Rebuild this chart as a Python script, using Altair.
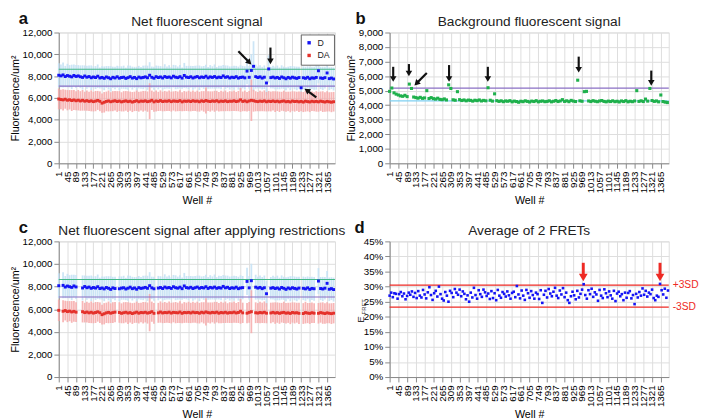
import altair as alt
import pandas as pd

FONT = "Liberation Sans"
BLUE = "#1414f5"
RED = "#e4312b"
LIGHT_BLUE = "#c6e2f5"
PINK = "#f6a9a9"
GREEN_DOT = "#1fb04c"
GREEN_LINE = "#45b98a"
PURPLE_LINE = "#8a6fc4"
CYAN_LINE = "#7fd0f2"
ARROW_RED = "#ee2a24"

# ---------------- data ----------------
wells = list(range(1, 1400, 11))           # sampled wells (128)
x_ticks = list(range(1, 1366, 44))         # 1, 45, 89, ... 1365

d_vals = [8080, 8020, 8110, 7960, 8050, 7990, 7930, 8060, 7970, 8020,
          7940, 7880, 8010, 7900, 7960, 7850, 7920, 7870, 7990, 7830,
          7880, 7800, 7920, 7850, 7760, 7890, 7830, 7940, 7810, 7870,
          7900, 7790, 7860, 7950, 7820, 7880, 7770, 7910, 7840, 7880,
          7930, 7850, 8080, 7890, 7810, 7950, 7870, 7920, 7830, 7960,
          7880, 7920, 7840, 7990, 7900, 7860, 7950, 7820, 8060, 7910,
          7870, 7940, 7830, 7900, 7960, 7850, 7920, 7880, 7990, 7840,
          7930, 7880, 7960, 7850, 7910, 7870, 8020, 7890, 7940, 7830,
          7900, 7860, 7950, 7820, 7880, 7910, 7840, 8460, 7890, 8520,
          8900, 7950, 7870, 7930, 7820, 7900, 7370, 8660, 7860, 7910,
          7830, 7880, 7790, 7920, 7850, 7760, 7880, 7810, 7900, 7840,
          7790, 7870, 6930, 7850, 7800, 7890, 7760, 7840, 7810, 7880,
          8490, 7830, 7790, 7860, 8290, 7770, 7820, 7740]

da_vals = [5900, 5850, 5820, 5880, 5790, 5830, 5760, 5810, 5740, 5790,
           5720, 5780, 5700, 5750, 5680, 5730, 5660, 5710, 5770, 5690,
           5520, 5600, 5680, 5720, 5650, 5700, 5740, 5670, 5710, 5640,
           5690, 5730, 5660, 5700, 5620, 5680, 5740, 5650, 5710, 5690,
           5730, 5660, 5700, 5780, 5640, 5720, 5680, 5750, 5670, 5710,
           5690, 5740, 5660, 5720, 5700, 5680, 5750, 5640, 5710, 5690,
           5720, 5670, 5740, 5690, 5710, 5650, 5730, 5680, 5760, 5700,
           5670, 5720, 5690, 5740, 5650, 5710, 5680, 5730, 5660, 5700,
           5690, 5740, 5670, 5710, 5820, 5680, 5730, 5650, 5720, 5780,
           5740, 5690, 5660, 5710, 5680, 5730, 5650, 5700, 5670, 5720,
           5660, 5700, 5640, 5690, 5720, 5650, 5680, 5630, 5710, 5670,
           5690, 5640, 5680, 5620, 5700, 5660, 5630, 5690, 5650, 5680,
           5640, 5700, 5660, 5620, 5680, 5640, 5610, 5650]

sd_d = [1100, 1050, 1150, 980, 1080, 1020, 1120, 1000, 1060, 990,
        1040, 1110, 970, 1060, 1010, 1130, 990, 1050, 1080, 960,
        1020, 1090, 1000, 1070, 1150, 980, 1040, 1010, 1100, 1030,
        1060, 990, 1120, 1010, 1050, 970, 1090, 1030, 1000, 1080,
        1040, 1110, 1200, 990, 1060, 1020, 1080, 1000, 1050, 1130,
        1010, 1070, 990, 1040, 1100, 1020, 1060, 980, 1150, 1030,
        1070, 1000, 1090, 1040, 1010, 1120, 980, 1050, 1060, 1000,
        1080, 1020, 1110, 990, 1040, 1070, 1000, 1090, 1030, 1060,
        1010, 1100, 990, 1050, 1120, 1030, 1060, 1200, 1040, 1500,
        2300, 1100, 1000, 1060, 1030, 1080, 1150, 1250, 990, 1050,
        1040, 1090, 1000, 1070, 1020, 1060, 990, 1110, 1030, 1050,
        1080, 1000, 1100, 1040, 1060, 1010, 1090, 1030, 1050, 1120,
        1150, 1020, 1070, 990, 1100, 1040, 1010, 1060]

sd_da = [950, 900, 980, 870, 930, 890, 960, 910, 880, 940,
         900, 950, 870, 920, 890, 960, 900, 930, 870, 910,
         880, 940, 900, 960, 870, 920, 890, 950, 910, 880,
         930, 900, 960, 880, 920, 890, 940, 910, 870, 950,
         900, 930, 1650, 890, 920, 960, 880, 940, 900, 930,
         890, 950, 910, 880, 940, 900, 960, 870, 920, 890,
         940, 900, 930, 880, 950, 910, 890, 940, 1200, 900,
         930, 880, 960, 910, 890, 940, 900, 950, 870, 920,
         900, 940, 880, 930, 1100, 900, 950, 890, 920, 1900,
         1000, 920, 880, 940, 900, 960, 890, 930, 910, 880,
         950, 900, 930, 870, 940, 910, 890, 950, 900, 930,
         880, 940, 900, 920, 960, 890, 930, 900, 870, 940,
         910, 890, 950, 900, 930, 880, 920, 900]

bg_vals = [4950, 5180, 4850, 4760, 4700, 4640, 4610, 4680, 4590, 5450,
           5150, 4560, 4520, 4480, 4540, 4470, 4500, 5000, 4460, 4520,
           4450, 4420, 4480, 4400, 4380, 4430, 4360, 5400, 5150, 4370,
           4340, 4930, 4380, 4320, 4360, 4300, 4350, 4330, 4280, 4340,
           4310, 4360, 4290, 4330, 4300, 5200, 4340, 4280, 4780, 4310,
           4260, 4300, 4240, 4290, 4270, 4310, 4230, 4280, 4250, 4200,
           4270, 4240, 4300, 4260, 4220, 4280, 4250, 4310, 4230, 4270,
           4290, 4240, 4260, 4300, 4230, 4270, 4320, 4250, 4290, 4380,
           4260, 4300, 4240, 4330, 4280, 4250, 5720, 4300, 4270, 4930,
           4950, 4290, 4250, 4310, 4270, 4240, 4290, 4320, 4260, 4230,
           4280, 4250, 4300, 4240, 4270, 4220, 4290, 4250, 4310, 4230,
           4270, 4240, 4290, 5000, 4260, 4300, 4250, 4420, 4280, 5150,
           4320, 4260, 4290, 4230, 4700, 4250, 4210, 4180]

# wells removed by the restrictions (flagged in panels a and b)
excluded_wells = [12, 100, 111, 298, 496, 947, 991, 1068, 1233, 1310]

fret_wells = list(range(1, 1402, 8))       # 176 wells
fret_pct = [27.0, 28.0, 26.5, 27.8, 27.6, 26.0, 27.5, 28.2, 26.8, 27.7, 25.8, 26.9, 28.0, 27.3, 28.4, 26.6,
            27.9, 26.2, 28.5, 27.0, 26.4, 28.9, 27.4, 26.1, 28.1, 29.8, 27.2, 25.6, 27.8, 28.6, 26.7, 30.0,
            27.5, 26.0, 25.4, 28.2, 27.0, 25.0, 28.6, 27.9, 26.5, 29.2, 28.0, 27.3, 29.0, 26.8, 28.4, 27.6,
            25.8, 27.1, 25.0, 28.0, 26.4, 29.6, 27.2, 26.0, 28.8, 27.5, 26.6, 29.0, 28.1, 26.9, 27.7, 25.9,
            28.5, 26.2, 27.8, 25.5, 28.9, 27.0, 26.3, 28.2, 27.6, 26.7, 28.4, 27.1, 26.0, 27.9, 28.3, 26.5,
            30.2, 27.4, 26.1, 28.7, 27.0, 25.6, 28.9, 27.8, 26.3, 28.5, 27.2, 26.0, 28.0, 27.5, 25.9, 28.8,
            24.6, 27.3, 28.6, 26.4, 29.2, 27.7, 26.8, 28.3, 29.6, 27.0, 26.2, 28.7, 27.4, 29.5, 26.5, 28.0,
            25.5, 24.6, 26.8, 28.3, 27.1, 25.8, 28.6, 26.4, 27.6, 29.0, 30.8, 27.2, 26.0, 28.8, 27.5, 29.3,
            26.6, 28.1, 27.4, 25.3, 28.9, 27.0, 26.2, 29.1, 27.8, 26.5, 28.4, 27.1, 26.0, 28.6, 25.2, 27.7,
            28.3, 26.8, 27.5, 25.5, 28.0, 26.3, 27.9, 28.5, 26.1, 27.2, 24.2, 27.6, 26.4, 28.2, 27.0, 29.4,
            27.3, 28.6, 26.7, 28.0, 27.5, 29.0, 26.2, 25.5, 27.0, 26.6, 30.9, 28.8, 27.4, 29.3, 26.3, 28.7]

# reference lines
a_upper, a_lower = 8630, 7080
b_upper, b_lower = 5170, 4300
d_plus3sd, d_minus3sd = 30.5, 23.2

# arrows: (x0, y0) tail, (x1, y1) head, angle of head
a_arrows = {"x0": [914, 1077, 1310], "y0": [10280, 10620, 6045],
            "x1": [970, 1077, 1262], "y1": [9250, 9350, 6700], "ang": [135, 180, 305]}
b_arrows = {"x0": [19, 98, 300, 495, 952, 1317, 188],
            "y0": [6640, 6830, 6760, 6640, 7340, 6380, 6210],
            "x1": [19, 98, 300, 495, 952, 1317, 136],
            "y1": [5800, 6180, 5800, 5800, 6440, 5540, 5500],
            "ang": [180, 180, 180, 180, 180, 180, 225]}
d_arrows = {"x0": [975, 1361], "y0": [37.9, 37.9], "x1": [975, 1361], "y1": [33.0, 33.0], "ang": [180, 180]}

titles = ["Net fluorescent signal", "Background fluorescent signal",
          "Net fluorescent signal after applying restrictions", "Average of 2 FRETs"]

# ---------------- tables ----------------
df = pd.DataFrame({"well": wells, "D": d_vals, "DA": da_vals, "sdD": sd_d, "sdDA": sd_da, "bg": bg_vals})
df["kept"] = ~df["well"].isin(excluded_wells)
df_c = df[df["kept"]].reset_index(drop=True)
fret_df = pd.DataFrame({"well": fret_wells, "fret": [v / 100 for v in fret_pct]})

PW, PW2 = 283, 286
PH_TOP, PH_BOT = 134, 139
XSC = alt.Scale(domain=[1, 1405], nice=False, zero=False)
XAX = alt.Axis(values=x_ticks, format="d", title="Well #", labelAngle=270, grid=True,
               labelAlign="right", labelBaseline="middle", labelPadding=3, titleFontWeight="normal",
               titlePadding=2, labelOverlap=False, labelFlush=False)


def X(field="well:Q"):
    return alt.X(field, scale=XSC, axis=XAX)


def text_mark(t, dx, dy, size, weight="normal", align="left", color="#111"):
    return alt.Chart(pd.DataFrame({"t": [t]})).mark_text(
        font=FONT, fontSize=size, fontWeight=weight, align=align, baseline="alphabetic", color=color
    ).encode(text="t:N", x=alt.value(dx), y=alt.value(dy))


def letter(t, dx):
    return text_mark(t, dx, -9, 17, weight="bold")


def title_mark(t, cx):
    return text_mark(t, cx, -7, 14, align="center", color="#222")


def hline(v, color, ysc, yax, width=1.2):
    return alt.Chart(pd.DataFrame({"v": [v]})).mark_rule(color=color, strokeWidth=width).encode(
        y=alt.Y("v:Q", scale=ysc, axis=yax))


def arrows(adict, ysc, yax, color="#111", width=2.2, head=45):
    adf = pd.DataFrame(adict)
    shaft = alt.Chart(adf).mark_rule(color=color, strokeWidth=width).encode(
        x=X("x0:Q"), x2="x1:Q",
        y=alt.Y("y0:Q", scale=ysc, axis=yax), y2="y1:Q")
    tip = alt.Chart(adf).mark_point(shape="triangle-up", filled=True, color=color, opacity=1, size=head).encode(
        x=X("x1:Q"),
        y=alt.Y("y1:Q", scale=ysc, axis=yax),
        angle=alt.Angle("ang:Q", scale=None))
    return [shaft, tip]


def signal_panel(data, title, let, title_cx, ph, arr=None):
    ysc = alt.Scale(domain=[0, 12000], nice=False)
    yax = alt.Axis(values=list(range(0, 12001, 2000)), format=",.0f", title="Fluorescence/um²",
                   titlePadding=2, titleFontWeight="normal")
    base = alt.Chart(data)
    err_d = base.transform_calculate(lo="datum.D - datum.sdD", hi="datum.D + datum.sdD").mark_rule(
        color=LIGHT_BLUE, strokeWidth=1.8, opacity=0.9).encode(
        x=X(), y=alt.Y("lo:Q", scale=ysc, axis=yax), y2="hi:Q")
    err_da = base.transform_calculate(lo="datum.DA - datum.sdDA", hi="datum.DA + datum.sdDA").mark_rule(
        color=PINK, strokeWidth=1.8, opacity=0.85).encode(
        x=X(), y=alt.Y("lo:Q", scale=ysc, axis=yax), y2="hi:Q")
    dots = base.transform_fold(["D", "DA"], as_=["series", "value"]).mark_square(size=9, opacity=1).encode(
        x=X(), y=alt.Y("value:Q", scale=ysc, axis=yax),
        color=alt.Color("series:N", scale=alt.Scale(domain=["D", "DA"], range=[BLUE, RED]),
                        legend=alt.Legend(title=None, orient="none", legendX=PW - 35, legendY=2,
                                          fillColor="white",
                                          strokeColor="#666", padding=4, symbolType="square",
                                          symbolSize=12, labelFontSize=9, labelFont=FONT,
                                          rowPadding=3, labelColor="#222")))
    layers = [err_d, err_da, hline(a_upper, GREEN_LINE, ysc, yax), hline(a_lower, PURPLE_LINE, ysc, yax), dots]
    if arr is not None:
        layers += arrows(arr, ysc, yax)
    layers += [letter(let, -41), title_mark(title, title_cx)]
    return alt.layer(*layers).properties(width=PW, height=ph)


panel_a = signal_panel(df, titles[0], "a", PW / 2, PH_TOP, a_arrows)
panel_c = signal_panel(df_c, titles[2], "c", PW / 2 + 5, PH_BOT)

# panel b
ysc_b = alt.Scale(domain=[0, 9000], nice=False)
yax_b = alt.Axis(values=list(range(0, 9001, 1000)), format=",.0f", title="Fluorescence/um²",
                 titlePadding=2, titleFontWeight="normal")
b_dots = alt.Chart(df).mark_square(size=10, color=GREEN_DOT, opacity=1).encode(
    x=X(), y=alt.Y("bg:Q", scale=ysc_b, axis=yax_b))
panel_b = alt.layer(hline(b_upper, PURPLE_LINE, ysc_b, yax_b), hline(b_lower, CYAN_LINE, ysc_b, yax_b),
                    b_dots, *arrows(b_arrows, ysc_b, yax_b), letter("b", -35),
                    title_mark(titles[1], PW2 / 2)).properties(width=PW2, height=PH_TOP)

# panel d
ysc_d = alt.Scale(domain=[0, 0.45], nice=False)
yax_d = alt.Axis(values=[i / 100 for i in range(0, 46, 5)], format=".0%", title=None)
sd_lines = pd.DataFrame({"v": [d_plus3sd / 100, d_minus3sd / 100], "lab": ["+3SD", "-3SD"]})
d_dots = alt.Chart(fret_df).mark_square(size=7, color=BLUE, opacity=1).encode(
    x=X(), y=alt.Y("fret:Q", scale=ysc_d, axis=yax_d))
d_lines = alt.Chart(sd_lines).mark_rule(color=ARROW_RED, strokeWidth=1.1).encode(
    y=alt.Y("v:Q", scale=ysc_d, axis=yax_d))
d_labels = alt.Chart(sd_lines).mark_text(color=ARROW_RED, font=FONT, fontSize=10.5, align="left",
                                         baseline="middle").encode(
    y=alt.Y("v:Q", scale=ysc_d, axis=yax_d), x=alt.value(PW2 + 4), text="lab:N")
d_arr = pd.DataFrame(d_arrows)
d_arr["y0"] = d_arr["y0"] / 100
d_arr["y1"] = d_arr["y1"] / 100
e_title = alt.Chart(pd.DataFrame({"t": ["E"]})).mark_text(font=FONT, fontSize=10, angle=270, color="#333",
                                                         align="center", baseline="middle").encode(
    text="t:N", x=alt.value(-29), y=alt.value(80))
fret_sub = alt.Chart(pd.DataFrame({"t": ["FRET"]})).mark_text(font=FONT, fontSize=6, angle=270, color="#333",
                                                             align="center", baseline="middle").encode(
    text="t:N", x=alt.value(-26), y=alt.value(67))
panel_d = alt.layer(d_lines, d_dots, d_labels,
                    *arrows(d_arr.to_dict(orient="list"), ysc_d, yax_d, color=ARROW_RED, width=3, head=80),
                    e_title, fret_sub, letter("d", -36), title_mark(titles[3], PW2 / 2)).properties(
    width=PW2, height=PH_BOT)

chart = alt.concat(panel_a, panel_b, panel_c, panel_d, columns=2, bounds="flush",
                   spacing={"row": 80, "column": 56}).configure_view(
    stroke="#d0d0d0").configure_axis(
    labelFont=FONT, titleFont=FONT, labelFontSize=8, titleFontSize=8.5, labelColor="#333",
    titleColor="#333", titleFontWeight="normal", tickSize=0, domainColor="#bdbdbd", labelPadding=3
).configure_axisX(gridColor="#cdcdcd", gridWidth=1).configure_axisY(gridColor="#ebebeb").configure(
    padding={"top": -4, "left": 0, "right": 0, "bottom": 0})

chart.save("out.html", embed_options={"renderer": "svg", "actions": False})
